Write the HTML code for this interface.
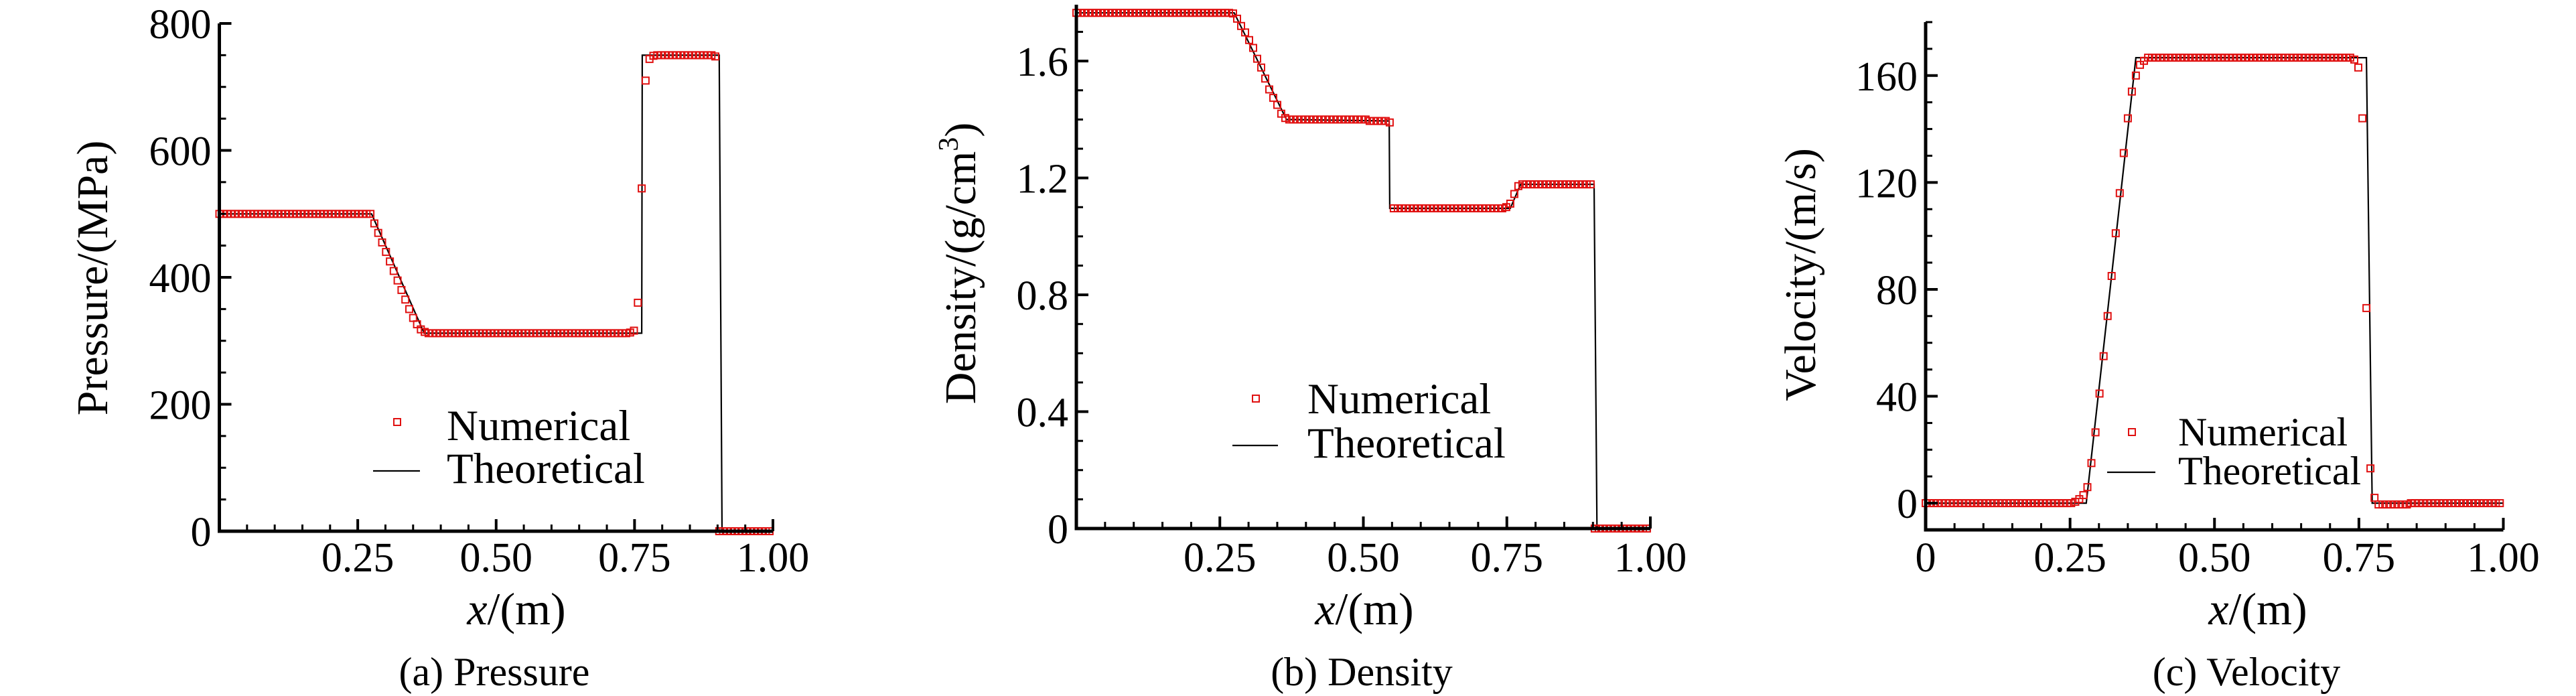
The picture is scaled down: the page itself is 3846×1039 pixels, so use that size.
<!DOCTYPE html>
<html>
<head>
<meta charset="utf-8">
<style>
html,body{margin:0;padding:0;background:#fff;font-family:"Liberation Serif","Times New Roman",serif;}
svg{display:block;font-family:"Liberation Serif","Times New Roman",serif;}
svg text{font-family:"Liberation Serif","Times New Roman",serif !important;fill:#000;}
</style>
</head>
<body>
<svg id="fig" width="3846" height="1039" viewBox="0 0 3846 1039" xmlns="http://www.w3.org/2000/svg" font-family="Liberation Serif, Times New Roman, serif"></svg>
<script>
// ---- shared data ----
const cellSize = 0.007;
const xTicksMajor = [0, 0.25, 0.5, 0.75, 1.0];
const xTickLabelsAB = ["", "0.25", "0.50", "0.75", "1.00"];
const xTickLabelsC = ["0", "0.25", "0.50", "0.75", "1.00"];

// ---- (a) Pressure ----
const pressureNumerical = [
500,500,500,500,500,500,500,500,500,500,500,500,500,500,500,500,500,500,500,500,
500,500,500,500,500,500,500,500,500,500,500,500,500,500,500,500,500,500,500,500,
485,470,455,440,425,410,395,380,365,350,336,326,318,314,
312,312,312,312,312,312,312,312,312,312,312,312,312,312,312,312,312,312,312,312,
312,312,312,312,312,312,312,312,312,312,312,312,312,312,312,312,312,312,312,312,
312,312,312,312,312,312,312,312,312,312,312,312,313,
316,360,540,710,744,749,
750,750,750,750,750,750,750,750,750,750,750,750,750,750,750,748,
0,0,0,0,0,0,0,0,0,0,0,0,0,0];
const pressureTheoX = [0, 0.275, 0.37, 0.763, 0.764, 0.903, 0.908, 1.0];
const pressureTheoY = [500, 500, 312, 312, 750, 750, 0, 0];
const pressureYTicks = [0, 200, 400, 600, 800];
const pressureYLabels = ["0", "200", "400", "600", "800"];

// ---- (b) Density ----
const densityNumerical = [
1.765,1.765,1.765,1.765,1.765,1.765,1.765,1.765,1.765,1.765,1.765,1.765,1.765,1.765,1.765,1.765,1.765,1.765,1.765,1.765,
1.765,1.765,1.765,1.765,1.765,1.765,1.765,1.765,1.765,1.765,1.765,1.765,1.765,1.765,1.765,1.765,1.765,1.765,1.765,
1.763,1.745,1.72,1.698,1.672,1.645,1.608,1.578,1.54,1.503,1.474,1.45,1.42,1.405,
1.40,1.40,1.40,1.40,1.40,1.40,1.40,1.40,1.40,1.40,1.40,1.40,1.40,1.40,1.40,1.40,1.40,1.40,1.40,1.40,
1.395,1.395,1.395,1.395,1.395,1.39,
1.096,1.096,1.096,1.096,1.096,1.096,1.096,1.096,1.096,1.096,1.096,1.096,1.096,1.096,
1.096,1.096,1.096,1.096,1.096,1.096,1.096,1.096,1.096,1.096,1.096,1.096,1.096,1.096,
1.100,1.112,1.145,1.172,
1.178,1.178,1.178,1.178,1.178,1.178,1.178,1.178,1.178,1.178,1.178,1.178,1.178,1.178,1.178,1.178,1.178,1.178,
0,0,0,0,0,0,0,0,0,0,0,0,0,0];
const densityTheoX = [0, 0.275, 0.366, 0.545, 0.546, 0.756, 0.774, 0.902, 0.907, 1.0];
const densityTheoY = [1.765, 1.765, 1.40, 1.395, 1.096, 1.096, 1.178, 1.178, 0, 0];
const densityYTicks = [0, 0.4, 0.8, 1.2, 1.6];
const densityYLabels = ["0", "0.4", "0.8", "1.2", "1.6"];

// ---- (c) Velocity ----
const velocityNumerical = [
0,0,0,0,0,0,0,0,0,0,0,0,0,0,0,0,0,0,0,0,
0,0,0,0,0,0,0,0,0,0,0,0,0,0,0,0,0,
0.5,1.5,3,6,15,26.5,41,55,70,85,101,116,131,144,154,160,164,165.5,
166.7,166.7,166.7,166.7,166.7,166.7,166.7,166.7,166.7,166.7,166.7,166.7,166.7,166.7,166.7,166.7,166.7,
166.7,166.7,166.7,166.7,166.7,166.7,166.7,166.7,166.7,166.7,166.7,166.7,166.7,166.7,166.7,166.7,166.7,
166.7,166.7,166.7,166.7,166.7,166.7,166.7,166.7,166.7,166.7,166.7,166.7,166.7,166.7,166.7,166.7,166.7,
166,163,144,73,13,2,
-0.5,-0.5,-0.5,-0.5,-0.5,-0.5,-0.5,-0.5,
0,0,0,0,0,0,0,0,0,0,0,0,0,0,0,0,0,0,0,0,0,0,0];
const velocityTheoX = [0, 0.278, 0.364, 0.763, 0.773, 1.0];
const velocityTheoY = [0, 0, 166.7, 166.7, 0, 0];
const velocityYTicks = [0, 40, 80, 120, 160];
const velocityYLabels = ["0", "40", "80", "120", "160"];

const NS = "http://www.w3.org/2000/svg";
const svg = document.getElementById("fig");
const FONT = "Liberation Serif, Times New Roman, serif";
function mk(tag, attrs, parent) {
  const e = document.createElementNS(NS, tag);
  for (const k in attrs) e.setAttribute(k, attrs[k]);
  if (tag === "text") e.setAttribute("font-family", FONT);
  (parent || svg).appendChild(e);
  return e;
}

function drawPanel(cfg) {
  const g = mk("g", {});
  
  
  const xs = v => cfg.x0 + (v - 0) / (1 - 0) * (cfg.x1 - cfg.x0);
  const ys = v => cfg.yb - (v - cfg.ymin) / (cfg.ymax - cfg.ymin) * (cfg.yb - cfg.yt);

  let d = "";
  for (let i = 0; i < cfg.theoX.length; i++) d += (i ? "L" : "M") + xs(cfg.theoX[i]).toFixed(1) + "," + ys(cfg.theoY[i]).toFixed(1);
  const tl = mk("path", {d: d, fill: "none", stroke: "#000", "stroke-width": 2.2}, g);
  
  

  const mg = mk("g", {fill: "none", stroke: "#e01010", "stroke-width": 2}, g);
  
  
  for (let i = 0; i < cfg.num.length; i++) {
    const px = xs(i * cellSize), py = ys(cfg.num[i]);
    const r = mk("rect", {x: (px - 5).toFixed(1), y: (py - 5).toFixed(1), width: 10, height: 10}, mg);
    
    
  }

  const ax = mk("path", {d: `M${cfg.x0},${cfg.yt}L${cfg.x0},${cfg.yb}L${cfg.x1},${cfg.yb}`, fill: "none", stroke: "#000", "stroke-width": 5}, g);
  
  

  for (let k = 0; k <= 20; k++) {
    const v = k * 0.05, px = xs(v), major = (k % 5 === 0);
    const t = mk("line", {x1: px, x2: px, y1: cfg.yb, y2: cfg.yb - (major ? 18 : 10), stroke: "#000", "stroke-width": major ? 4 : 3}, g);
    
    
  }
  for (let i = 0; i < xTicksMajor.length; i++) {
    const lab = cfg.xLabels[i];
    if (!lab) continue;
    const t = mk("text", {x: xs(xTicksMajor[i]), y: 853, "font-size": 62, "text-anchor": "middle"}, g);
    t.textContent = lab;
    
    
  }
  for (let v = cfg.ymin; v <= cfg.ymax + 1e-9; v += cfg.minor) {
    const vv = Math.round(v / cfg.minor) * cfg.minor;
    const major = Math.abs(vv / cfg.major - Math.round(vv / cfg.major)) < 1e-6;
    const py = ys(vv);
    const t = mk("line", {x1: cfg.x0, x2: cfg.x0 + (major ? 18 : 10), y1: py, y2: py, stroke: "#000", "stroke-width": major ? 4 : 3}, g);
    
    
  }
  for (let i = 0; i < cfg.yTicks.length; i++) {
    const t = mk("text", {x: cfg.x0 - 12, y: ys(cfg.yTicks[i]) + 22, "font-size": 62, "text-anchor": "end"}, g);
    t.textContent = cfg.yLabels[i];
    
    
  }
  const xt = mk("text", {x: cfg.xtc, y: 932, "font-size": 68, "text-anchor": "middle"}, g);
  xt.innerHTML = '<tspan font-style="italic">x</tspan>/(m)';
  
  
  const yt = mk("text", {x: 0, y: 0, "font-size": 66, "text-anchor": "middle", transform: `translate(${cfg.ytx},${cfg.ytc}) rotate(-90)`}, g);
  yt.innerHTML = cfg.yTitle;
  
  
  const cp = mk("text", {x: cfg.capx, y: 1023, "font-size": 60, "text-anchor": "middle"}, g);
  cp.textContent = cfg.caption;
  
  

  const L = cfg.leg;
  const lg = mk("g", {}, g);
  
  
  const lm = mk("rect", {x: L.mx - 5, y: L.my - 5, width: 10, height: 10, fill: "none", stroke: "#e01010", "stroke-width": 2}, lg);
  
  
  const t1 = mk("text", {x: L.tx, y: L.b1, "font-size": L.fs}, lg);
  t1.textContent = "Numerical";
  
  
  const ll = mk("line", {x1: L.lx1, x2: L.lx2, y1: L.ly, y2: L.ly, stroke: "#000", "stroke-width": 2.2}, lg);
  
  
  const t2 = mk("text", {x: L.tx, y: L.b2, "font-size": L.fs}, lg);
  t2.textContent = "Theoretical";
  
  
}

drawPanel({id: "pressure", x0: 327.5, x1: 1154, yb: 793, yt: 35, ymin: 0, ymax: 800, major: 200, minor: 50,
  num: pressureNumerical, theoX: pressureTheoX, theoY: pressureTheoY, yTicks: pressureYTicks, yLabels: pressureYLabels,
  xLabels: xTickLabelsAB, xtc: 771, ytx: 160, ytc: 415, yTitle: "Pressure/(MPa)", capx: 738, caption: "(a) Pressure",
  leg: {mx: 593, my: 630, tx: 667, b1: 657, lx1: 557, lx2: 627, ly: 703, b2: 721, fs: 65}});

drawPanel({id: "density", x0: 1607, x1: 2464, yb: 789, yt: 7, ymin: 0, ymax: 1.793, major: 0.4, minor: 0.1,
  num: densityNumerical, theoX: densityTheoX, theoY: densityTheoY, yTicks: densityYTicks, yLabels: densityYLabels,
  xLabels: xTickLabelsAB, xtc: 2037, ytx: 1456, ytc: 393, yTitle: 'Density/(g/cm<tspan font-size="42" dy="-26">3</tspan><tspan dy="26">)</tspan>', capx: 2033, caption: "(b) Density",
  leg: {mx: 1875, my: 595, tx: 1952, b1: 617, lx1: 1840, lx2: 1908, ly: 665, b2: 683, fs: 65}});

drawPanel({id: "velocity", x0: 2875, x1: 3737.5, yb: 791, yt: 33, ymin: -10, ymax: 180, major: 40, minor: 10,
  num: velocityNumerical, theoX: velocityTheoX, theoY: velocityTheoY, yTicks: velocityYTicks, yLabels: velocityYLabels,
  xLabels: xTickLabelsC, xtc: 3371, ytx: 2710, ytc: 410, yTitle: "Velocity/(m/s)", capx: 3354, caption: "(c) Velocity",
  leg: {mx: 3183, my: 645, tx: 3252, b1: 665, lx1: 3146, lx2: 3218, ly: 705, b2: 723, fs: 60}});
</script>
</body>
</html>
